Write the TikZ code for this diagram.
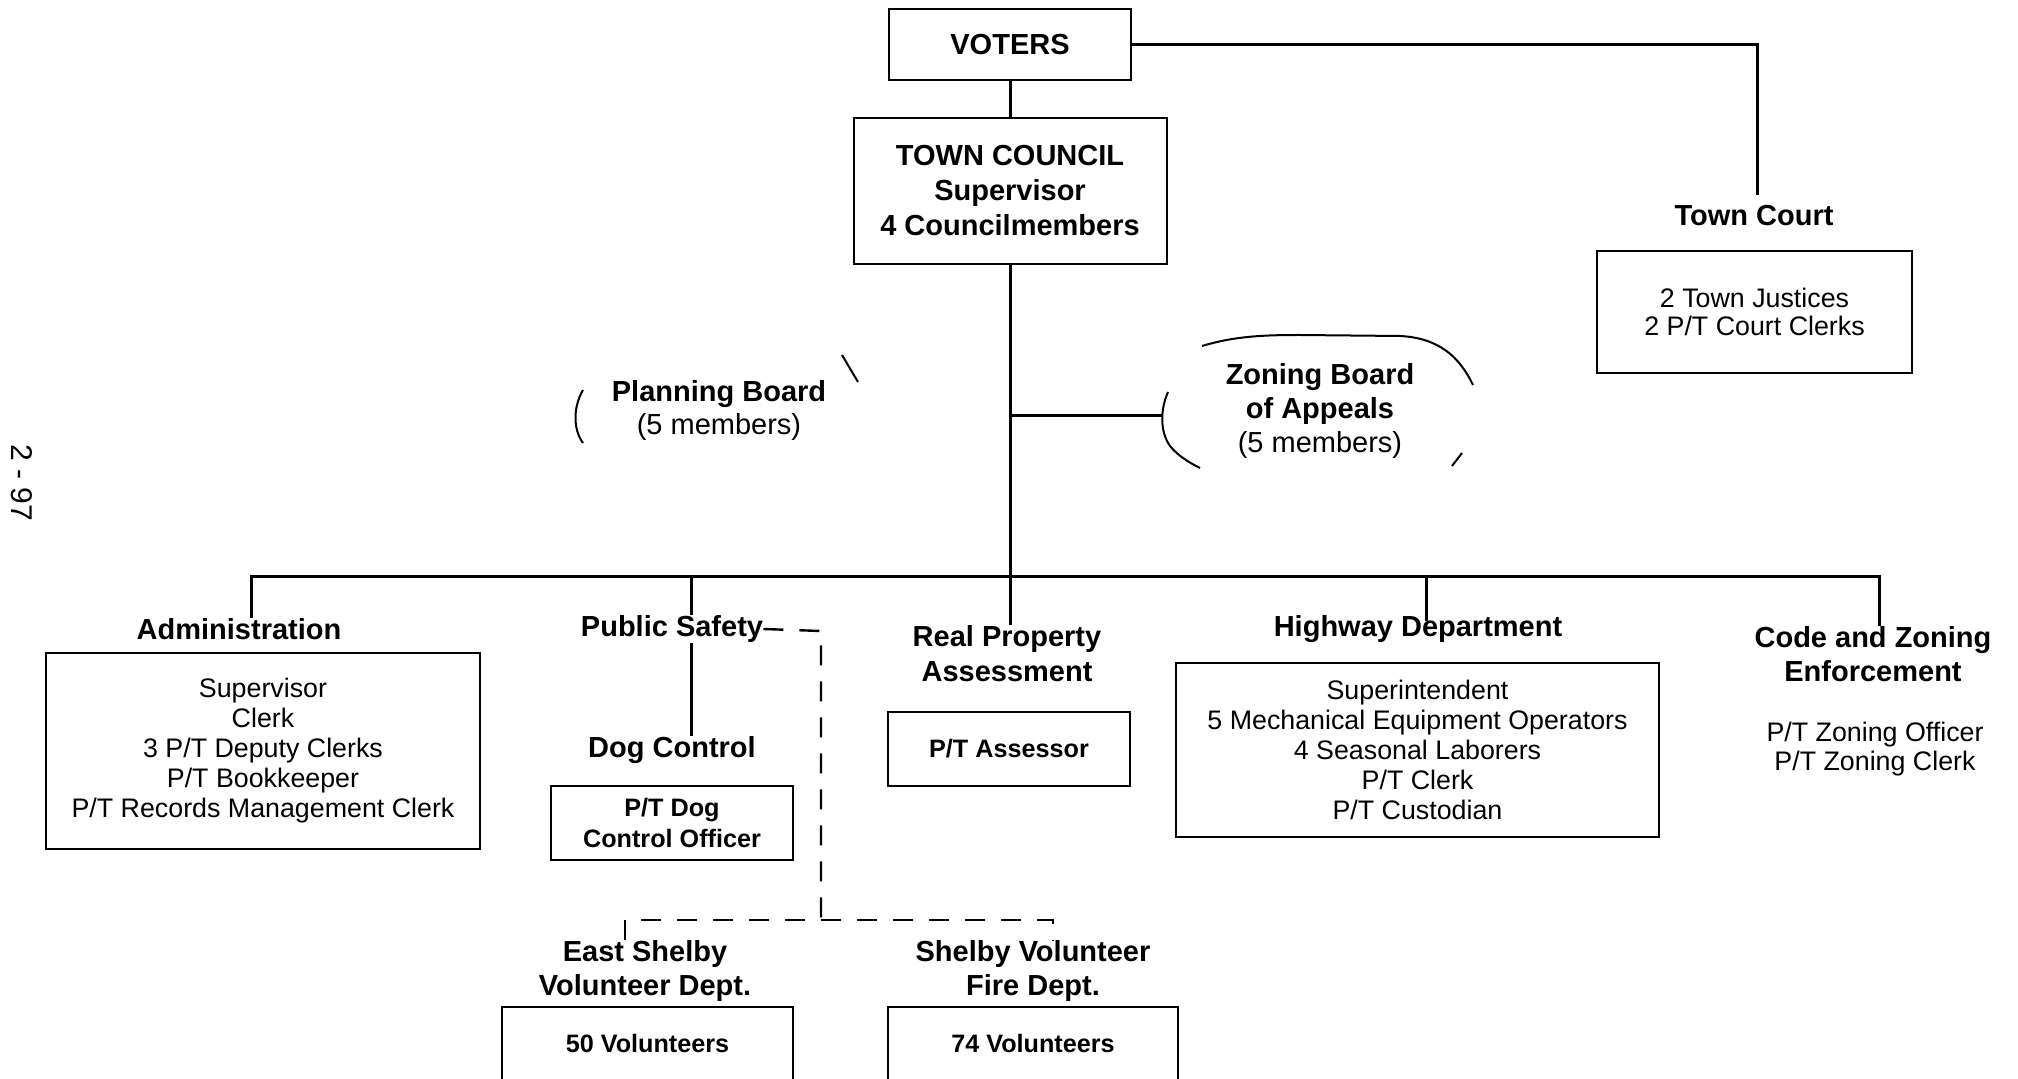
\documentclass[tikz,border=0pt]{standalone}
\usepackage{fontspec}
\setmainfont{Liberation Sans}
\usetikzlibrary{calc}
\begin{document}
\begin{tikzpicture}[x=0.5pt,y=-0.5pt,
  conn/.style={line width=1.5pt},
  dashline/.style={line width=1.2pt, dash pattern=on 10pt off 8pt},
  arcline/.style={line width=1pt},
  box/.style={draw, line width=1pt, inner sep=0pt, align=center},
  title/.style={inner sep=0pt, align=center, font=\bfseries\fontsize{14.5}{17}\selectfont},
  body/.style={font=\fontsize{13.4}{15}\selectfont},
  boldbody/.style={font=\bfseries\fontsize{12.6}{15.5}\selectfont}]
\useasboundingbox (0,0) rectangle (2018,1079);
\clip (0,0) rectangle (2018,1079);

% top
\node[box, minimum width=121pt, minimum height=35.5pt, font=\bfseries\fontsize{14.5}{17}\selectfont] (voters) at (1010,44.5) {VOTERS};
\node[box, minimum width=156.5pt, minimum height=73pt, font=\bfseries\fontsize{14.5}{17.5}\selectfont] (council) at (1010,191) {TOWN COUNCIL\\Supervisor\\4 Councilmembers};

\node[title] (courtT) at (1754,216) {Town Court};
\node[box, body, minimum width=157.5pt, minimum height=61pt, font=\fontsize{13.4}{14}\selectfont] (court) at (1754.5,312) {2 Town Justices\\2 P/T Court Clerks};

% boards
\node[title, font=\bfseries\fontsize{14.5}{16.5}\selectfont] (planning) at (719,410) {Planning Board\\{\mdseries (5 members)}};
\node[title] (zoning) at (1320,411) {Zoning Board\\of Appeals\\{\mdseries (5 members)}};

\draw[arcline] (583,390) .. controls (574,405) and (572,428) .. (583,443);
\draw[arcline] (842,355) -- (858,382);
\draw[arcline] (1202,346) .. controls (1235,336) and (1265,335) .. (1300,335) -- (1400,336) .. controls (1440,338) and (1460,358) .. (1473,385);
\draw[arcline] (1168,392) .. controls (1160,410) and (1160,432) .. (1170,446) .. controls (1178,456) and (1190,463) .. (1200,468);
\draw[arcline] (1462,453) -- (1452,466);

% second level titles
\node[title] (adminT) at (239,629) {Administration};
\node[title] (psT) at (672,629) {Public Safety};
\node[title] (dogT) at (672,750) {Dog Control};
\node[title, font=\bfseries\fontsize{14.5}{17.5}\selectfont] (rpT) at (1007,653.5) {Real Property\\Assessment};
\node[title] (hwT) at (1418,629) {Highway Department};
\node[title] (codeT) at (1873,654) {Code and Zoning\\Enforcement};

% boxes
\node[box, body, minimum width=217pt, minimum height=98pt] (admin) at (263,751) {Supervisor\\Clerk\\3 P/T Deputy Clerks\\P/T Bookkeeper\\P/T Records Management Clerk};
\node[box, boldbody, minimum width=121pt, minimum height=37pt] (dog) at (672,823) {P/T Dog\\Control Officer};
\node[box, boldbody, minimum width=121pt, minimum height=37pt] (assessor) at (1009,749) {P/T Assessor};
\node[box, body, minimum width=241.5pt, minimum height=87pt] (highway) at (1417.5,750) {Superintendent\\5 Mechanical Equipment Operators\\4 Seasonal Laborers\\P/T Clerk\\P/T Custodian};
\node[body, inner sep=0pt, align=center, font=\fontsize{13.4}{14.5}\selectfont] (code) at (1875,749.5) {P/T Zoning Officer\\P/T Zoning Clerk};

% fire
\node[title] (eastT) at (645,971) {East Shelby\\Volunteer Dept.};
\node[title] (fireT) at (1033,971) {Shelby Volunteer\\Fire Dept.};
\node[box, boldbody, minimum width=145.5pt, text height=22.5pt, text depth=20.5pt, anchor=north] (east) at (647.5,1006) {50 Volunteers};
\node[box, boldbody, minimum width=145pt, text height=22.5pt, text depth=20.5pt, anchor=north] (fire) at (1033,1006) {74 Volunteers};

\node[rotate=-90, inner sep=0pt, font=\fontsize{15}{15}\selectfont] (page) at (22,483) {2 - 97};

% connectors
\coordinate (courtTop) at (1757,195);
\draw[conn] (voters.east) -| (courtTop);
\draw[conn] (voters.south) -- (council.north);
\draw[conn] (council.south) -- (council.south |- rpT.north);
\coordinate (zbL) at (1163,416);
\draw[conn] (zbL -| council.south) -- (zbL);

\coordinate (busL) at (251,577);
\coordinate (busR) at (1879,577);
\draw[conn] (busL |- adminT.north) -- (busL) -- (busR) -- (busR |- codeT.north);
\coordinate (psX) at (691,577);
\draw[conn] (psX) -- (psX |- psT.north);
\draw[conn] (psX |- psT.south) -- (psX |- dogT.north);
\coordinate (hwX) at (1426,577);
\draw[conn] (hwX) -- ([yshift=-3pt]hwX |- hwT.north);

\coordinate (dR) at (821,631);
\coordinate (dB) at (821,920);
\coordinate (dL) at (625,920);
\coordinate (dRR) at (1053,920);
\draw[dashline] (psT.east) -- (dR) -- (dB);
\draw[dashline] (dL |- eastT.north) -- (dL) -- (dRR) -- (dRR |- fireT.north);
\end{tikzpicture}
\end{document}
